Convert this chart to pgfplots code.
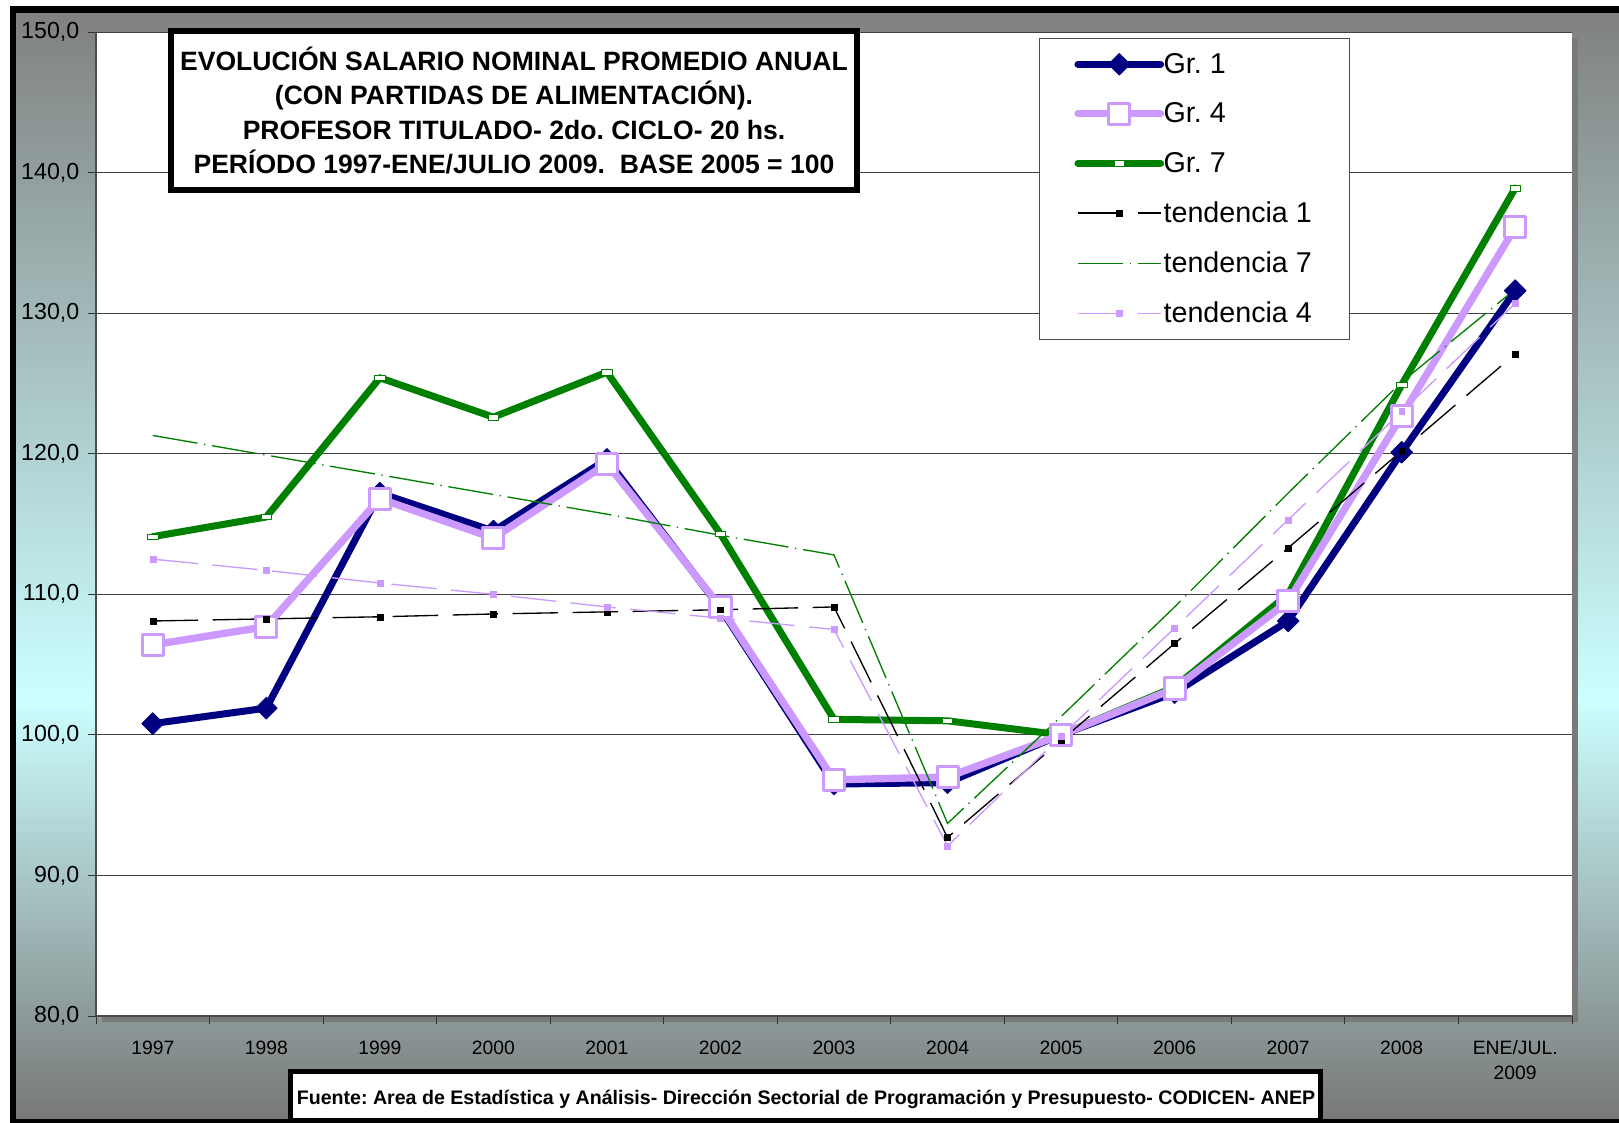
\documentclass[border=0pt]{standalone}
\usepackage{pgfplots}
\usepackage{pgfplotstable}
\pgfplotsset{compat=1.18}
\usepackage{fontspec}
\setmainfont{Liberation Sans}
\frenchspacing
\definecolor{navyc}{HTML}{000080}
\definecolor{lav}{HTML}{CC99FF}
\definecolor{grn}{HTML}{008000}
\definecolor{bgtop}{HTML}{808080}
\definecolor{bgmid}{HTML}{CCFFFF}
\definecolor{bgbot}{HTML}{787878}
\definecolor{shadowc}{HTML}{7A7A7A}

\pgfplotstableread{
x g1 g4 g7 t1 t7 t4
0 100.8 106.4 114.1 108.1 121.3 112.5
1 101.9 107.7 115.5 108.25 119.9 111.7
2 117.2 116.8 125.4 108.4 118.5 110.8
3 114.5 114.0 122.6 108.6 117.1 110.0
4 119.6 119.3 125.8 108.75 115.7 109.1
5 109.0 109.1 114.3 108.9 114.2 108.3
6 96.5 96.8 101.1 109.1 112.8 107.5
7 96.6 97.0 101.0 92.7 93.7 92.1
8 100.0 100.0 100.0 99.6 101.3 99.9
9 103.0 103.3 103.4 106.5 109.1 107.6
10 108.1 109.5 110.0 113.3 117.2 115.3
11 120.1 122.7 124.9 120.2 125.1 123.0
12 131.6 136.1 138.9 127.1 131.7 130.7
}\data

\tikzset{
 gr1/.style={navyc, line width=5.25pt, line join=round, line cap=round, mark=square*, mark size=5.8pt,
   mark options={rotate=45, fill=navyc, draw=navyc, line width=0.5pt, solid}},
 gr4/.style={lav, line width=5.5pt, line join=round, line cap=round, mark=square*, mark size=7.9pt,
   mark options={fill=white, draw=lav, line width=2.25pt, solid}},
 gr7/.style={grn, line width=5.25pt, line join=round, line cap=round, mark=square*, mark size=3pt,
   mark options={fill=white, draw=grn, line width=0.5pt, xscale=1.3, yscale=0.7, solid}},
 t1/.style={black, line width=1pt, dash pattern=on 34pt off 11pt, mark=square*, mark size=2.2pt,
   mark options={solid, fill=black, line width=0.3pt}},
 t7/.style={grn, line width=1pt, dash pattern=on 34pt off 5pt on 1pt off 5pt, mark=none},
 t4/.style={lav, line width=1pt, dash pattern=on 34pt off 11pt, mark=square*, mark size=2.2pt,
   mark options={solid, fill=lav, draw=lav, line width=0.3pt}},
}

\begin{document}
\begin{tikzpicture}[x=0.75pt,y=0.75pt]
\useasboundingbox (0,0) rectangle (1619,1122);
\fill[white] (0,0) rectangle (1619,1122);
\shade[top color=bgtop, bottom color=bgmid] (13,422) rectangle (1619,1113);
\shade[top color=bgmid, bottom color=bgbot] (13,2) rectangle (1619,422.5);
\fill[shadowc] (102,100) rectangle (1578,1084);

\begin{axis}[
 at={(72pt,79.5pt)}, anchor=south west,
 width=1107pt, height=738pt, scale only axis,
 xmin=-0.5, xmax=12.5, ymin=80, ymax=150,
 axis background/.style={fill=white},
 axis x line*=bottom, axis y line*=left,
 axis line style={black!70, line width=1pt},
 xtick={-0.5,0.5,1.5,2.5,3.5,4.5,5.5,6.5,7.5,8.5,9.5,10.5,11.5,12.5},
 xticklabels={,,,,,,,,,,,,,},
 extra x ticks={0,1,2,3,4,5,6,7,8,9,10,11,12},
 extra x tick labels={1997,1998,1999,2000,2001,2002,2003,2004,2005,2006,2007,2008,{ENE/JUL.\\2009}},
 extra x tick style={major tick length=0pt, grid=none},
 ytick={80,90,100,110,120,130,140,150},
 tick align=outside, major tick length=6pt,
 tick style={black!80, line width=0.75pt},
 ymajorgrids, major grid style={black!75, line width=0.75pt},
 xticklabel style={font=\fontsize{14.5}{18.5}\selectfont, align=center, yshift=-15pt},
 yticklabel style={font=\fontsize{17.4}{20}\selectfont, xshift=-3pt,
   /pgf/number format/fixed, /pgf/number format/fixed zerofill,
   /pgf/number format/precision=1, /pgf/number format/use comma},
 /pgf/number format/assume math mode=true,
 legend style={at={(0.6389,0.9939)}, anchor=north west, draw=black!70, line width=0.9pt, fill=white,
   font=\fontsize{21.5}{25}\selectfont, inner xsep=26pt, inner ysep=9pt, row sep=16.6pt, column sep=-2.5pt},
 legend cell align=left,
 legend image code/.code={\draw[mark repeat=2,mark phase=2,#1] plot coordinates {(0pt,0pt) (31pt,0pt) (62pt,0pt)};},
]
\addlegendimage{gr1}\addlegendentry{Gr. 1}
\addlegendimage{gr4}\addlegendentry{Gr. 4}
\addlegendimage{gr7}\addlegendentry{Gr. 7}
\addlegendimage{t1}\addlegendentry{tendencia 1}
\addlegendimage{t7}\addlegendentry{tendencia 7}
\addlegendimage{t4}\addlegendentry{tendencia 4}

\addplot[gr1, forget plot] table[x=x, y=g1] {\data};
\addplot[gr7, forget plot] table[x=x, y=g7] {\data};
\addplot[gr4, forget plot] table[x=x, y=g4] {\data};
\addplot[t1, forget plot] table[x=x, y=t1] {\data};
\addplot[t7, forget plot] table[x=x, y=t7] {\data};
\addplot[t4, forget plot] table[x=x, y=t4] {\data};
\end{axis}

\draw[line width=4.5pt, fill=white] (171,1091) rectangle (857,932);
\node[align=center, font=\bfseries\fontsize{19.9}{25.8}\selectfont] at (514,1011.5)
 {EVOLUCIÓN SALARIO NOMINAL PROMEDIO ANUAL\\(CON PARTIDAS DE ALIMENTACIÓN).\\PROFESOR TITULADO- 2do. CICLO- 20 hs.\\PERÍODO 1997-ENE/JULIO 2009.~~BASE 2005 = 100};

\draw[line width=3.75pt, fill=white] (290.5,2) rectangle (1320,51);
\node[font=\bfseries\fontsize{14.7}{17}\selectfont] at (806,23)
 {Fuente: Area de Estadística y Análisis- Dirección Sectorial de Programación y Presupuesto- CODICEN- ANEP};

\draw[line width=4.5pt] (13,0) -- (13,1115);
\draw[line width=5.25pt] (10,1112.5) -- (1619,1112.5);
\draw[line width=3pt] (10,1.5) -- (1619,1.5);
\end{tikzpicture}
\end{document}
